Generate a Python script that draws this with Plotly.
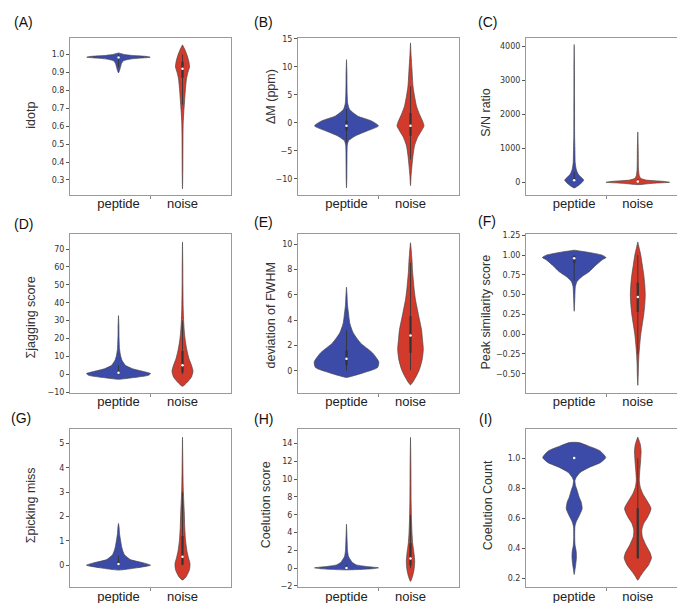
import plotly.graph_objects as go

categories = ["peptide", "noise"]
BLUE = "#3C4AA8"
RED = "#D23A2B"

# ---------- density profiles (value, relative density) ----------
# (A) idotp
idotp_pep_y = [0.898, 0.91, 0.93, 0.95, 0.965, 0.975, 0.98, 0.985, 0.99, 0.994, 1.0, 1.009]
idotp_pep_d = [0, 1, 2, 3, 5, 12, 22, 31.7, 27, 15, 6, 0]
idotp_noi_y = [0.25, 0.35, 0.45, 0.55, 0.62, 0.68, 0.735, 0.81, 0.865, 0.902, 0.93, 0.957, 0.994, 1.032, 1.054]
idotp_noi_d = [0, 0.3, 0.4, 0.5, 0.7, 1.3, 2, 3, 4, 5.5, 7, 6.5, 4.7, 2, 0]
idotp_pep_box = [0.93, 0.975, 0.983, 0.99, 1.0]
idotp_noi_box = [0.72, 0.87, 0.92, 0.96, 1.0]

# (B) delta M (ppm)
dm_pep_y = [-11.6, -10, -8, -6, -4, -3.2, -2.3, -1.4, -0.52, 0.36, 1.25, 2.44, 3.5, 5, 7, 9, 11.3]
dm_pep_d = [0, 0.3, 0.4, 0.5, 0.8, 2, 9, 21, 32, 25, 11, 3, 1.2, 0.7, 0.5, 0.4, 0]
dm_noi_y = [-11.2, -9.4, -7.6, -5.85, -4.1, -2.6, -1.4, -0.52, 0.36, 1.55, 3.0, 4.8, 6.6, 9.5, 12, 14.3]
dm_noi_d = [0, 0.6, 1.5, 2.5, 4, 7, 11, 13.5, 12, 9, 6, 4, 2.5, 1.5, 0.6, 0]
dm_pep_box = [-3.5, -1.3, -0.5, 0.4, 2.5]
dm_noi_box = [-6.5, -2.3, -0.5, 1.8, 6.5]

# (C) S/N ratio
sn_pep_y = [-166, -99, 0, 67, 146, 242, 388, 583, 971, 1359, 2000, 2620, 3300, 4058]
sn_pep_d = [0, 4, 8, 9.5, 7, 4, 2, 1, 0.7, 0.4, 0.35, 0.3, 0.25, 0]
sn_noi_y = [-70, -29, 0, 29, 67, 116, 194, 388, 777, 1100, 1485]
sn_noi_d = [0, 15, 32, 25, 8, 3, 1.5, 0.7, 0.5, 0.35, 0]
sn_pep_box = [0, 30, 60, 120, 300]
sn_noi_box = [0, 5, 20, 40, 100]

# (D) sum jagging score
jag_pep_y = [-2.8, -1.85, -0.55, 0.37, 1.67, 3.1, 5, 7.8, 10.6, 14.3, 21.7, 27, 32.8]
jag_pep_d = [0, 15, 30, 32, 24, 14, 7, 3.5, 2, 1, 0.5, 0.4, 0]
jag_noi_y = [-6.7, -4.3, -1.5, 1.67, 5, 8.7, 13.3, 18, 22.6, 29, 36.5, 49.4, 60, 73.9]
jag_noi_d = [0, 5, 9, 10.5, 9, 6.5, 4.5, 3, 2, 1.2, 0.7, 0.4, 0.3, 0]
jag_pep_box = [0, 0.2, 0.8, 2.0, 5]
jag_noi_box = [0, 1, 5, 13, 30]

# (E) deviation of FWHM
fw_pep_y = [-0.52, -0.39, -0.13, 0.26, 0.7, 1.43, 2.2, 3.0, 3.76, 4.54, 5.2, 6.0, 6.6]
fw_pep_d = [0, 7, 18, 31, 32.3, 25.8, 14, 6.7, 3.3, 2, 1, 0.5, 0]
fw_noi_y = [-1.1, -0.39, 0.13, 0.9, 1.7, 2.47, 3.25, 4.03, 4.8, 5.6, 6.4, 7.15, 7.9, 8.7, 9.2, 9.7, 10.1]
fw_noi_d = [0, 6, 9, 11.7, 12.8, 12, 11, 9, 7, 5, 3.7, 2.8, 2, 1.5, 1, 0.5, 0]
fw_pep_box = [0, 0.45, 0.96, 1.6, 3.2]
fw_noi_box = [0.05, 1.43, 2.78, 4.3, 8.5]

# (F) peak similarity score
ps_pep_y = [0.29, 0.46, 0.605, 0.67, 0.73, 0.79, 0.875, 0.94, 0.97, 1.0, 1.04, 1.0625]
ps_pep_d = [0, 0.6, 1.2, 3, 8, 15, 22, 28, 32, 28, 12, 0]
ps_noi_y = [-0.646, -0.5, -0.375, -0.25, -0.125, 0, 0.125, 0.25, 0.375, 0.5, 0.625, 0.75, 0.875, 1.0, 1.083, 1.167]
ps_noi_d = [0, 0.5, 0.7, 1.2, 2, 3, 4.5, 6, 7, 7.5, 7, 6, 4.5, 3, 1.5, 0]
ps_pep_box = [0.68, 0.9, 0.96, 0.99, 1.0]
ps_noi_box = [-0.25, 0.28, 0.47, 0.65, 1.0]

# (G) sum picking miss
pm_pep_y = [-0.2, -0.11, 0, 0.095, 0.23, 0.43, 0.7, 1.04, 1.31, 1.59, 1.72]
pm_pep_d = [0, 18, 32, 25, 12, 6, 3.5, 2, 1, 0.5, 0]
pm_noi_y = [-0.61, -0.45, -0.18, 0.07, 0.3, 0.57, 1.04, 1.59, 2.13, 2.67, 3.2, 4.0, 5.27]
pm_noi_d = [0, 4, 7, 7.5, 6, 4.5, 3, 2.2, 1.8, 1.2, 0.7, 0.4, 0]
pm_pep_box = [0, 0.01, 0.05, 0.15, 0.4]
pm_noi_box = [0, 0.02, 0.35, 1.2, 3.0]

# (H) coelution score
cs_pep_y = [-0.19, -0.07, 0.04, 0.19, 0.37, 0.63, 0.93, 1.3, 2.0, 3.1, 4.93]
cs_pep_d = [0, 25, 32, 20, 10, 6, 4, 2, 1, 0.6, 0]
cs_noi_y = [-1.48, -0.93, -0.19, 0.74, 1.67, 2.78, 3.9, 5.4, 7.6, 11.3, 14.7]
cs_noi_d = [0, 2, 3.5, 4.2, 3.5, 2.2, 1.5, 1, 0.6, 0.4, 0]
cs_pep_box = [0, 0.0, 0.02, 0.1, 0.4]
cs_noi_box = [0, 0.3, 1.1, 2.8, 6]

# (I) coelution count
cc_pep_y = [0.226, 0.26, 0.291, 0.335, 0.379, 0.423, 0.478, 0.543, 0.576, 0.62, 0.664, 0.708, 0.74,
            0.785, 0.818, 0.85, 0.872, 0.905, 0.938, 0.971, 1.004, 1.048, 1.081, 1.103, 1.105]
cc_pep_d = [0, 0.8, 1.5, 2.2, 2, 0.8, 0.5, 0.7, 2, 5.3, 8, 7, 5, 3, 1.3, 0.7, 2, 6, 15, 26.7, 31.7,
            26, 14, 5, 0]
cc_noi_y = [0.188, 0.214, 0.247, 0.291, 0.335, 0.368, 0.423, 0.478, 0.522, 0.566, 0.609, 0.664, 0.719,
            0.763, 0.806, 0.85, 0.916, 0.982, 1.048, 1.092, 1.14]
cc_noi_d = [0, 2.5, 6, 11, 13.7, 12.5, 8, 4.5, 4, 6, 10, 13.3, 9, 5, 2.5, 1.5, 2, 2.8, 3.3, 2.5, 0]
cc_pep_box = [1.0, 1.0, 1.0, 1.0, 1.0]
cc_noi_box = [0.333, 0.333, None, 0.667, 1.0]

panel_letters = ["(A)", "(B)", "(C)", "(D)", "(E)", "(F)", "(G)", "(H)", "(I)"]
y_titles = ["idotp", "ΔM (ppm)", "S/N ratio", "Σjagging score", "deviation of FWHM",
            "Peak similarity score", "Σpicking miss", "Coelution score", "Coelution Count"]

panels = [
    dict(pep=(idotp_pep_y, idotp_pep_d, idotp_pep_box), noi=(idotp_noi_y, idotp_noi_d, idotp_noi_box),
         yrange=[0.217, 1.094], tick0=0.3, dtick=0.1, fmt=".1f"),
    dict(pep=(dm_pep_y, dm_pep_d, dm_pep_box), noi=(dm_noi_y, dm_noi_d, dm_noi_box),
         yrange=[-12.84, 15.23], tick0=-10, dtick=5, fmt="d"),
    dict(pep=(sn_pep_y, sn_pep_d, sn_pep_box), noi=(sn_noi_y, sn_noi_d, sn_noi_box),
         yrange=[-370, 4262], tick0=0, dtick=1000, fmt="d"),
    dict(pep=(jag_pep_y, jag_pep_d, jag_pep_box), noi=(jag_noi_y, jag_noi_d, jag_noi_box),
         yrange=[-10.2, 78.2], tick0=-10, dtick=10, fmt="d"),
    dict(pep=(fw_pep_y, fw_pep_d, fw_pep_box), noi=(fw_noi_y, fw_noi_d, fw_noi_box),
         yrange=[-1.71, 10.76], tick0=0, dtick=2, fmt="d"),
    dict(pep=(ps_pep_y, ps_pep_d, ps_pep_box), noi=(ps_noi_y, ps_noi_d, ps_noi_box),
         yrange=[-0.7375, 1.2625], tick0=-0.5, dtick=0.25, fmt=".2f"),
    dict(pep=(pm_pep_y, pm_pep_d, pm_pep_box), noi=(pm_noi_y, pm_noi_d, pm_noi_box),
         yrange=[-0.907, 5.6], tick0=0, dtick=1, fmt="d"),
    dict(pep=(cs_pep_y, cs_pep_d, cs_pep_box), noi=(cs_noi_y, cs_noi_d, cs_noi_box),
         yrange=[-2.14, 15.63], tick0=-2, dtick=2, fmt="d"),
    dict(pep=(cc_pep_y, cc_pep_d, cc_pep_box), noi=(cc_noi_y, cc_noi_d, cc_noi_box),
         yrange=[0.141, 1.193], tick0=0.2, dtick=0.2, fmt=".1f"),
]

# ---------- layout geometry (pixels) ----------
W, H = 685, 603
col_px = [(62, 223), (290, 451), (518, 678)]
row_px = [(27, 186), (226, 386), (423, 583)]
title_px = [(23, 106), (263, 87), (478, 102), (23, 310), (263, 308), (478, 304), (23, 500), (258, 500), (480, 500)]
letter_px = [(16, 11), (255, 11), (479, 11), (16, 215), (255, 213), (479, 212), (13, 412), (256, 413), (477, 413)]
PX_PER_UNIT = 64.0   # density -> half width scale
XRANGE = [-0.758, 1.758]

fig = go.Figure()
annotations = []
layout = dict(width=W, height=H, margin=dict(l=0, r=0, t=0, b=0),
              paper_bgcolor="white", plot_bgcolor="white", showlegend=False)

AX_FONT = "Liberation Sans, Arial, sans-serif"

for i, p in enumerate(panels):
    r, c = divmod(i, 3)
    n = "" if i == 0 else str(i + 1)
    xa, ya = "x" + n, "y" + n
    x0, x1 = col_px[c]
    y0, y1 = row_px[r]
    layout["xaxis" + n] = dict(
        domain=[x0 / W, x1 / W], range=XRANGE, anchor=ya,
        tickmode="array", tickvals=[0, 1], ticktext=categories, ticks="",
        ticklabelstandoff=-3,
        minor=dict(tickmode="array", tickvals=[0.5], ticks="outside", ticklen=3, tickcolor="#888", tickwidth=1),
        showgrid=False, zeroline=False, showline=True, mirror=True, linecolor="#9a9a9a", linewidth=1,
        tickfont=dict(family=AX_FONT, size=13, color="#222"), fixedrange=True)
    layout["yaxis" + n] = dict(
        domain=[1 - y1 / H, 1 - y0 / H], range=p["yrange"], anchor=xa,
        tick0=p["tick0"], dtick=p["dtick"], tickformat=p["fmt"], ticks="outside", ticklen=3,
        tickcolor="#555", tickwidth=1,
        showgrid=False, zeroline=False, showline=True, mirror=True, linecolor="#9a9a9a", linewidth=1,
        tickfont=dict(family="DejaVu Sans", size=8, color="#333"), fixedrange=True)

    for pos, key, color in [(0, "pep", BLUE), (1, "noi", RED)]:
        ys, ds, box = p[key]
        xs_right = [pos + d / PX_PER_UNIT for d in ds]
        xs_left = [pos - d / PX_PER_UNIT for d in ds]
        px_ = xs_right + xs_left[::-1]
        py_ = list(ys) + list(ys)[::-1]
        fig.add_trace(go.Scatter(x=px_, y=py_, xaxis=xa, yaxis=ya, mode="lines",
                                 fill="toself", fillcolor=color,
                                 line=dict(color="rgba(70,70,70,0.85)", width=0.8, shape="spline", smoothing=0.6),
                                 hoverinfo="skip"))
        wlo, q1, med, q3, whi = box
        fig.add_trace(go.Scatter(x=[pos, pos], y=[wlo, whi], xaxis=xa, yaxis=ya, mode="lines",
                                 line=dict(color="rgba(50,50,50,0.85)", width=1.0), hoverinfo="skip"))
        fig.add_trace(go.Scatter(x=[pos, pos], y=[q1, q3], xaxis=xa, yaxis=ya, mode="lines",
                                 line=dict(color="rgba(50,50,50,0.85)", width=2.4), hoverinfo="skip"))
        if med is not None:
            fig.add_trace(go.Scatter(x=[pos], y=[med], xaxis=xa, yaxis=ya, mode="markers",
                                     marker=dict(color="white", size=2.5), hoverinfo="skip"))

    tx, ty = title_px[i]
    annotations.append(dict(text=y_titles[i], x=tx / W, y=1 - ty / H, xref="paper", yref="paper",
                            xanchor="center", yanchor="middle", textangle=-90, showarrow=False,
                            font=dict(family=AX_FONT, size=12.5, color="#333")))
    lx, ly = letter_px[i]
    annotations.append(dict(text=panel_letters[i], x=lx / W, y=1 - ly / H, xref="paper", yref="paper",
                            xanchor="center", yanchor="middle", showarrow=False,
                            font=dict(family=AX_FONT, size=14, color="#111")))

layout["annotations"] = annotations
fig.update_layout(**layout)
fig.write_html("out.html")
